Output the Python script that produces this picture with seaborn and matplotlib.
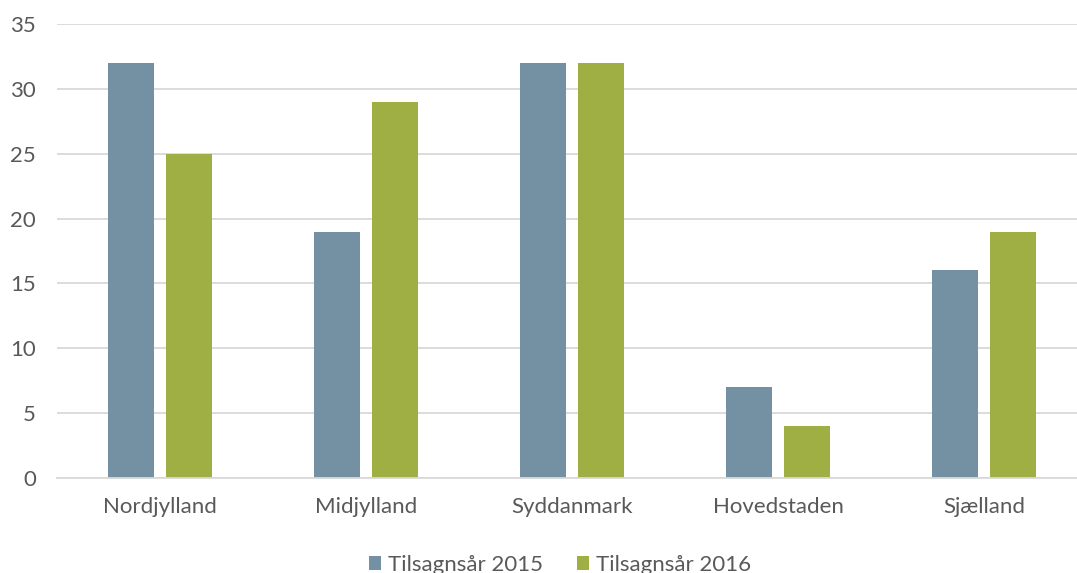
import matplotlib
matplotlib.use("Agg")
import matplotlib.pyplot as plt
import seaborn as sns
import pandas as pd

regions = ["Nordjylland", "Midjylland", "Syddanmark", "Hovedstaden", "Sjælland"]
series = ["Tilsagnsår 2015", "Tilsagnsår 2016"]
v2015 = [32, 19, 32, 7, 16]
v2016 = [25, 29, 32, 4, 19]
yticks = [0, 5, 10, 15, 20, 25, 30, 35]

df = pd.DataFrame({
    "region": regions * 2,
    "serie": [series[0]] * len(regions) + [series[1]] * len(regions),
    "value": v2015 + v2016,
})

sns.set_theme(style="white")
plt.rcParams['font.family'] = ['Lato', 'DejaVu Sans']
txt = "#595959"

fig = plt.figure(figsize=(10.77, 5.73), dpi=100)
ax = fig.add_axes([57 / 1077, 1 - 478 / 573, 1020 / 1077, 454 / 573])
palette = {series[0]: "#7490A3", series[1]: "#A0AF44"}
sns.barplot(data=df, x="region", y="value", hue="serie", order=regions,
            hue_order=series, palette=palette, width=0.563, gap=0.208,
            saturation=1, ax=ax, legend=False, edgecolor="none")

ax.set_ylim(0, 35)
ax.set_xlim(-0.5, 4.45)
ax.set_yticks(yticks)
ax.yaxis.grid(True, color="#D9D9D9", linewidth=1.3)
ax.set_axisbelow(True)
for s in ["top", "right", "left"]:
    ax.spines[s].set_visible(False)
ax.spines["bottom"].set_color("#D9D9D9")
ax.spines["bottom"].set_linewidth(1.3)
ax.tick_params(axis="both", length=0, labelsize=16, colors=txt)
ax.tick_params(axis="x", pad=14)
ax.tick_params(axis="y", pad=15)
ax.set_xlabel("")
ax.set_ylabel("")

from matplotlib.patches import Patch
handles = [Patch(facecolor=palette[s], edgecolor="none") for s in series]
fig.legend(handles, series, loc="center", bbox_to_anchor=(560 / 1077, 1 - 565 / 573),
           ncol=2, frameon=False, fontsize=16, labelcolor=txt,
           handlelength=0.55, handleheight=0.55, handletextpad=0.28, columnspacing=1.55)

fig.savefig("out.png", dpi=100)
